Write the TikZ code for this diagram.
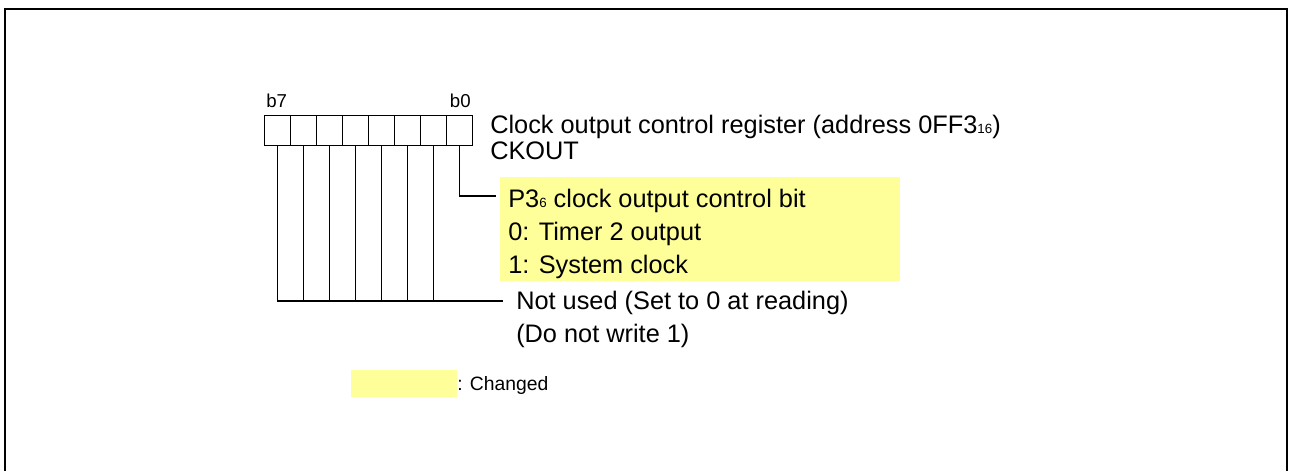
\documentclass[tikz,border=0pt]{standalone}
\usepackage{fontspec}
\setmainfont{Liberation Sans}
\usetikzlibrary{positioning}
\definecolor{chgyellow}{RGB}{255,255,153}
\newcommand{\subidx}[2][10]{{\fontsize{#1}{#1}\selectfont #2}}

\begin{document}
\begin{tikzpicture}[x=0.75pt, y=-0.75pt,
  every node/.style={inner sep=0pt, font=\fontsize{19}{22}\selectfont},
  cell/.style={draw, line width=1.1pt, minimum width=19.5pt, minimum height=22.5pt, anchor=north west},
  lead/.style={line width=1.1pt},
  txt/.style={anchor=base west},
  bitno/.style={font=\fontsize{14}{16}\selectfont}]
  \useasboundingbox (0,0) rectangle (1289,471);

  % Outer frame (bottom edge cut off)
  \draw[line width=1.5pt] (5,490) -- (5,9) -- (1287,9) -- (1287,490);

  % Register cells b7 ... b0
  \foreach \b [count=\i from 0] in {7,6,...,0}
    \node[cell] (c\b) at (264+26*\i,115) {};
  \node[bitno, anchor=base west] (b7) at (266,107) {b7};
  \node[bitno, anchor=base east] (b0) at (471,107) {b0};

  % Register name
  \node[txt] (regname) at (490,133) {Clock output control register (address 0FF3\subidx{16})};
  \node[txt] (regsym) at (490,159) {CKOUT};

  % Changed bit (b0)
  \fill[chgyellow] (500,177) rectangle (900,281);
  \node[txt] (bit0) at (508,207) {P3\subidx{6} clock output control bit};
  \node[txt] (bit0a) at (508,240) {0: Timer 2 output};
  \node[txt] (bit0b) at (508,273) {1: System clock};
  \coordinate (bit0end) at (496,196);
  \draw[lead] (c0.south) |- (bit0end);

  % Unused bits b7 ... b1
  \node[txt] (nu) at (516,309) {Not used (Set to 0 at reading)};
  \node[txt] (nua) at (516,342) {(Do not write 1)};
  \coordinate (nuend) at (503,301);
  \draw[lead] (c7.south) |- (nuend);
  \foreach \b in {6,...,1}
    \draw[lead] (c\b.south) -- (c\b.south |- nuend);

  % Legend
  \fill[chgyellow] (351,370) rectangle (457,397);
  \node[txt, font=\fontsize{14.5}{17}\selectfont] (chg) at (457,390) {: Changed};
\end{tikzpicture}
\end{document}
